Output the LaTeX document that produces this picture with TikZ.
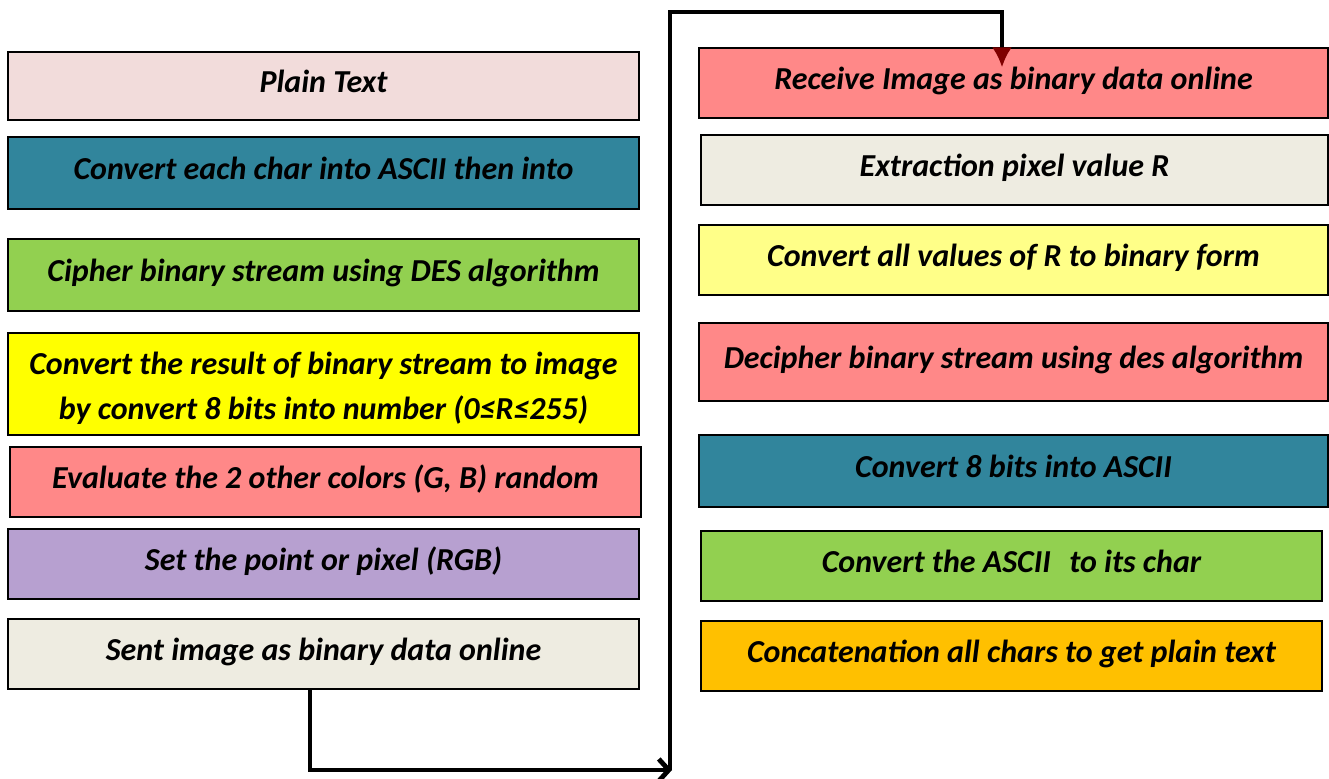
\documentclass[tikz,border=0pt]{standalone}
\usepackage{fontspec}
\setmainfont{Carlito}
\usetikzlibrary{arrows.meta}
\definecolor{pinkbox}{HTML}{F2DCDB}
\definecolor{tealbox}{HTML}{31859C}
\definecolor{greenbox}{HTML}{92D050}
\definecolor{yellowbox}{HTML}{FFFF00}
\definecolor{redbox}{HTML}{FF8888}
\definecolor{purplebox}{HTML}{B7A0D0}
\definecolor{greybox}{HTML}{EEECE1}
\definecolor{paleyellow}{HTML}{FFFF88}
\definecolor{orangebox}{HTML}{FFC000}
\definecolor{arrowred}{HTML}{800000}
\tikzset{
  box/.style={draw, line width=0.6pt, inner sep=0pt, align=center,
    text height=11pt, text depth=5pt,
    font=\bfseries\itshape\fontsize{16}{22.5}\selectfont},
  leftbox/.style={box, minimum width=315.5pt},
  rightbox/.style={box, minimum width=314.5pt},
  conn/.style={line width=2.4pt}
}
\begin{document}
\begin{tikzpicture}[x=0.5pt,y=-0.5pt]
        \useasboundingbox (0,0) rectangle (1329,778);
        % sender side
        \node[leftbox, fill=pinkbox, minimum height=34pt] at (323.5,86) (plain) {Plain Text};
        \node[leftbox, fill=tealbox, minimum height=36pt] at (323.5,173) (ascii) {Convert each char into ASCII then into};
        \node[leftbox, fill=greenbox, minimum height=36pt] at (323.5,275) (cipher) {Cipher binary stream using DES algorithm};
        \node[leftbox, fill=yellowbox, minimum height=51pt, text height=40.5pt] at (323.5,384) (toimage) {Convert the result of binary stream to image\\by convert 8 bits into number (0≤R≤255)};
        \node[leftbox, fill=redbox, minimum height=35pt] at (325.5,482) (evaluate) {Evaluate the 2 other colors (G, B) random};
        \node[leftbox, fill=purplebox, minimum height=35pt] at (323.5,564) (setpix) {Set the point or pixel (RGB)};
        \node[leftbox, fill=greybox, minimum height=35pt] at (323.5,654) (sent) {Sent image as binary data online};
        % receiver side
        \node[rightbox, fill=redbox, minimum height=35pt] at (1013.5,83) (receive) {Receive Image as binary data online};
        \node[rightbox, fill=greybox, minimum height=35pt, minimum width=313.5pt] at (1014.5,170) (extract) {Extraction pixel value R};
        \node[rightbox, fill=paleyellow, minimum height=35pt] at (1013.5,260) (tobin) {Convert all values of R to binary form};
        \node[rightbox, fill=redbox, minimum height=39pt] at (1013.5,362) (decipher) {Decipher binary stream using des algorithm};
        \node[rightbox, fill=tealbox, minimum height=36pt] at (1013.5,471) (tobits) {Convert 8 bits into ASCII};
        \node[rightbox, fill=greenbox, minimum height=35pt, minimum width=310.5pt] at (1011.5,566) (tochar) {Convert the ASCII\hspace{0.35em} to its char};
        \node[rightbox, fill=orangebox, minimum height=35pt, minimum width=310.5pt] at (1011.5,656) (concat) {Concatenation all chars to get plain text};
        % connectors
        \coordinate (turn) at (672,770);
        \coordinate (top) at (1002,12);
        \draw[conn, -{Straight Barb[length=5pt, width=11pt]}] ([xshift=-6.75pt]sent.south) |- (turn);
        \draw[conn, -{Latex[color=arrowred, length=10pt, width=10pt]}] ([xshift=-1pt]turn) |- (top) -- ([yshift=-10pt]receive.north -| top);
      \end{tikzpicture}
\end{document}
